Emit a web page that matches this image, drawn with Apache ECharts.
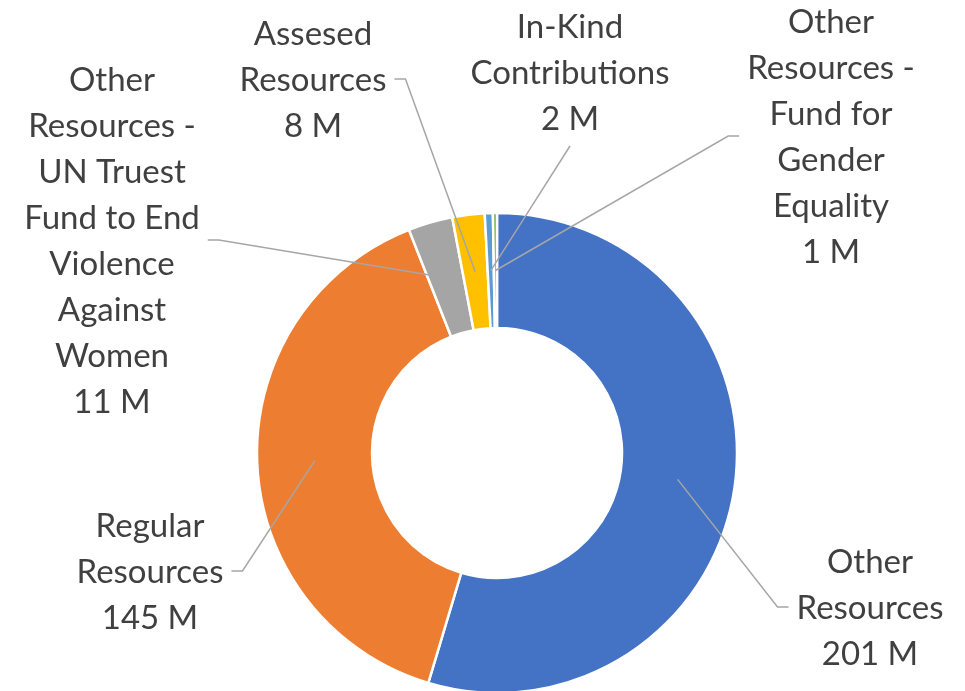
<!DOCTYPE html>
<html><head><meta charset="utf-8">
<script src="https://cdn.jsdelivr.net/npm/echarts@6/dist/echarts.min.js"></script>
<style>html,body{margin:0;padding:0;background:#fff}#c{width:965px;height:691px}</style>
</head><body><div id="c"></div>
<script>
const categories = ['Other Resources','Regular Resources','Other Resources - UN Truest Fund to End Violence Against Women','Assesed Resources','In-Kind Contributions','Other Resources - Fund for Gender Equality'];
const wrappedLabels = ['Other\nResources','Regular\nResources','Other\nResources -\nUN Truest\nFund to End\nViolence\nAgainst\nWomen','Assesed\nResources','In-Kind\nContributions','Other\nResources -\nFund for\nGender\nEquality'];
const values = [201,145,11,8,2,1];
const colors = ['#4472C4','#ED7D31','#A5A5A5','#FFC000','#5B9BD5','#70AD47'];

const CX=497, CY=453, R0=125, R1=240, RM=(R0+R1)/2;
const labelPos = [
 {x:870,y:608,side:'left'},
 {x:150,y:572,side:'right'},
 {x:112,y:241,side:'right'},
 {x:313,y:80,side:'right'},
 {x:570,y:73,side:'bottom'},
 {x:831,y:137,side:'left'}
];
const total = values.reduce((a,b)=>a+b,0);
const midAngles = []; let acc=0;
values.forEach(v=>{ midAngles.push((acc+v/2)/total*2*Math.PI); acc+=v; });

const pieData = categories.map((n,i)=>({name:n,value:values[i],itemStyle:{color:colors[i]}}));

const chart = echarts.init(document.getElementById('c'), null, {renderer:'canvas'});
chart.setOption({
  animation:false,
  backgroundColor:'#fff',
  series:[{
    type:'pie',
    z:2,
    center:[CX,CY],
    radius:[R0,R1],
    startAngle:90,
    clockwise:true,
    silent:true,
    itemStyle:{borderColor:'#fff',borderWidth:2.5},
    emphasis:{disabled:true},
    label:{show:false},
    labelLine:{show:false},
    data:pieData
  },{
    type:'pie',
    z:5,
    center:[CX,CY],
    radius:[R0,R1],
    startAngle:90,
    clockwise:true,
    silent:true,
    avoidLabelOverlap:false,
    itemStyle:{color:'rgba(0,0,0,0)',borderWidth:0},
    emphasis:{disabled:true},
    label:{
      show:true,position:'outside',
      formatter:p=>wrappedLabels[p.dataIndex]+'\n'+p.value+' M',
      color:'#404040',fontFamily:'Lato',fontSize:33,lineHeight:46,align:'center'
    },
    labelLine:{show:true,length:10,length2:10,lineStyle:{color:'#A6A6A6',width:1.5}},
    labelLayout:function(params){
      const i=params.dataIndex, p=labelPos[i];
      const w=params.labelRect.width, h=params.labelRect.height;
      const a=midAngles[i];
      const anchor=[CX+RM*Math.sin(a), CY-RM*Math.cos(a)];
      let pts;
      const ly=p.y-1;
      if(p.side==='left'){
        const edge=[p.x-w/2-8, ly];
        pts=[anchor,[edge[0]-11,ly],edge];
      } else if(p.side==='right'){
        const edge=[p.x+w/2+8, ly];
        pts=[anchor,[edge[0]+11,ly],edge];
      } else {
        const edge=[p.x, p.y+h/2+4];
        pts=[anchor,[(anchor[0]+edge[0])/2,(anchor[1]+edge[1])/2],edge];
      }
      return {x:p.x,y:p.y,align:'center',verticalAlign:'middle',labelLinePoints:pts};
    },
    data:categories.map((n,i)=>({name:n,value:values[i]}))
  }]
});
</script></body></html>
